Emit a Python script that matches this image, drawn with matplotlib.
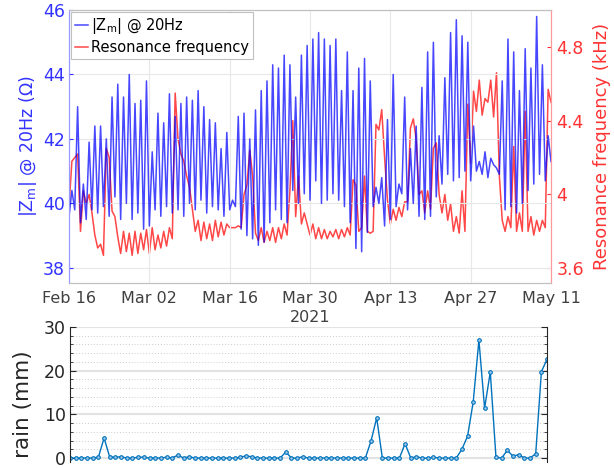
import matplotlib
matplotlib.use("Agg")
import matplotlib.pyplot as plt
import matplotlib.dates as mdates
import pandas as pd

# daily readings, Feb 16 .. May 10 (value at 00h, value at 12h)
zm_trough = [39.6, 39.8, 39.4, 39.5, 39.8, 39.7, 39.9, 39.6, 40.2, 39.5,
             40.0, 39.5, 39.7, 39.2, 39.3, 39.8, 39.6, 39.9, 39.7, 39.8,
             39.6, 40.0, 39.8, 40.1, 39.7, 39.9, 39.8, 39.6, 39.8, 39.9,
             39.2, 39.0, 38.9, 38.7, 38.8, 39.4, 39.8, 39.5, 39.4, 40.4,
             40.0, 40.3, 40.1, 40.7, 40.0, 40.1, 40.3, 40.1, 39.9, 39.4,
             38.6, 38.5, 39.1, 39.9, 40.0, 39.3, 39.5, 39.9, 40.3, 39.8,
             40.0, 39.6, 39.5, 39.6, 40.2, 40.6, 40.9, 40.7, 40.8, 41.0,
             40.7, 41.0, 40.9, 40.8, 41.2, 40.9, 39.8, 39.9, 39.7, 40.0,
             40.4, 40.6, 40.9, 40.7]
zm_peak = [40.4, 43.0, 40.6, 41.9, 42.4, 42.4, 42.0, 43.3, 43.7, 43.3,
           44.0, 43.1, 43.2, 43.8, 41.6, 42.8, 42.5, 43.4, 42.7, 43.1,
           43.3, 43.2, 43.5, 43.0, 42.6, 42.5, 41.7, 42.2, 40.1, 42.7,
           42.8, 42.0, 42.9, 43.5, 43.8, 44.3, 44.2, 44.6, 44.3, 43.3,
           44.6, 44.9, 45.1, 45.3, 45.1, 44.9, 45.1, 43.5, 44.7, 43.5,
           44.2, 44.5, 43.8, 40.5, 40.8, 42.6, 44.0, 40.6, 43.3, 41.7,
           42.4, 43.6, 44.7, 45.0, 42.1, 43.9, 45.3, 45.7, 45.2, 45.0,
           42.4, 41.3, 41.6, 41.4, 41.1, 43.8, 45.1, 44.7, 43.5, 44.8,
           44.2, 45.8, 44.3, 42.1]
zm_last = 41.3

fres_00h = [3.93, 4.20, 3.80, 3.95, 3.90, 3.71, 3.67, 4.20, 3.88, 3.68,
            3.69, 3.67, 3.68, 3.70, 3.68, 3.70, 3.71, 3.72, 3.76, 4.30,
            4.18, 4.04, 3.80, 3.75, 3.76, 3.75, 3.77, 3.78, 3.82, 3.82,
            3.82, 4.05, 4.10, 3.75, 3.74, 3.75, 3.74, 3.76, 3.78, 4.40,
            4.10, 3.90, 3.78, 3.76, 3.76, 3.76, 3.77, 3.76, 3.77, 3.78,
            4.05, 3.82, 3.80, 3.80, 4.35, 4.20, 3.84, 3.86, 3.88, 3.96,
            4.41, 4.00, 3.90, 3.92, 4.28, 3.90, 3.86, 3.80, 3.79, 3.80,
            4.17, 4.45, 4.43, 4.50, 4.42, 4.10, 3.80, 3.82, 3.80, 3.80,
            3.80, 3.78, 3.80, 3.82]
fres_12h = [4.18, 4.22, 4.02, 4.00, 3.78, 3.73, 4.25, 3.91, 3.77, 3.80,
            3.79, 3.80, 3.79, 3.81, 3.82, 3.78, 3.80, 3.82, 4.55, 4.22,
            4.10, 3.92, 3.86, 3.85, 3.84, 3.86, 3.85, 3.84, 3.82, 3.83,
            4.00, 4.24, 3.79, 3.82, 3.80, 3.82, 3.82, 3.84, 4.02, 3.88,
            3.84, 3.84, 3.84, 3.82, 3.81, 3.80, 3.81, 3.81, 3.82, 4.08,
            3.80, 4.10, 3.79, 4.38, 4.46, 3.97, 3.92, 3.93, 3.96, 4.36,
            4.30, 4.02, 4.02, 4.25, 4.00, 4.00, 3.95, 3.88, 4.02, 4.49,
            4.56, 4.62, 4.52, 4.62, 4.66, 3.86, 3.88, 4.26, 3.90, 4.45,
            3.88, 3.86, 3.86, 4.57]
fres_last = 4.50

# daily rain, Feb 16 .. May 11
rain = [0, 0, 0, 0, 0, 0.2, 4.6, 0.2, 0.2, 0.3,
        0, 0, 0.2, 0.2, 0, 0, 0, 0.2, 0, 0.7,
        0, 0.3, 0, 0, 0, 0, 0, 0, 0, 0,
        0.2, 0.5, 0.3, 0, 0, 0, 0, 0, 1.4, 0,
        0, 0.3, 0, 0, 0, 0, 0, 0, 0, 0,
        0, 0, 0, 3.9, 9.2, 0, 0, 0, 0, 3.3,
        0, 0.3, 0, 0, 0.2, 0, 0, 0, 0, 2.0,
        5.0, 12.9, 27.0, 11.4, 19.7, 0.2, 0, 1.8, 0.4, 0.8,
        0, 0, 1.0, 19.8, 22.6]

start = pd.Timestamp("2021-02-16")
end = pd.Timestamp("2021-05-11")
days = pd.date_range(start, periods=len(zm_peak), freq="D")
rain_days = pd.date_range(start, end, freq="D")


def half_day_series(v00, v12, last):
    t, v = [], []
    for d, a, b in zip(days, v00, v12):
        t += [d, d + pd.Timedelta(hours=12)]
        v += [a, b]
    t.append(end)
    v.append(last)
    return t, v


t_zm, v_zm = half_day_series(zm_trough, zm_peak, zm_last)
t_fr, v_fr = half_day_series(fres_00h, fres_12h, fres_last)

plt.rcParams["font.family"] = "DejaVu Sans"
fig = plt.figure(figsize=(6.14, 4.68), dpi=100)

# top panel
ax = fig.add_axes([0.1124, 0.3953, 0.785, 0.5833])
ax2 = ax.twinx()
ax.set_zorder(ax2.get_zorder() + 1)
ax.patch.set_visible(False)

l1, = ax.plot(t_zm, v_zm, color=(0, 0, 1, 0.72), lw=1.1, label="|Z$_{\\rm m}$| @ 20Hz")
l2, = ax2.plot(t_fr, v_fr, color=(1, 0, 0, 0.72), lw=1.1, label="Resonance frequency")

ax.set_xlim(start, end)
ax.set_ylim(37.53, 46)
ax2.set_ylim(3.52, 5.0)
ax.set_yticks([38, 40, 42, 44, 46])
ax2.set_yticks([3.6, 4.0, 4.4, 4.8])
ax2.set_yticklabels(["3.6", "4", "4.4", "4.8"])
ax.set_xticks(pd.date_range(start, end, freq="14D"))
ax.xaxis.set_major_formatter(mdates.DateFormatter("%b %d"))

ax.grid(True, color="#e8e8e8", lw=0.8)
ax.tick_params(axis="y", colors="#3333ff", labelsize=12.5, length=3, direction="in", pad=3)
ax.tick_params(axis="x", colors="#404040", labelsize=11.5, length=0, pad=6)
ax2.tick_params(axis="y", colors="#ff3333", labelsize=12.5, length=3, direction="in", pad=4)
ax.set_ylabel("|Z$_{\\rm m}$| @ 20Hz ($\\Omega$)", color="#3333ff", fontsize=12.5, labelpad=3)
ax2.set_ylabel("Resonance frequency (kHz)", color="#ff3333", fontsize=13, labelpad=6)
ax.set_xlabel("2021", color="#404040", fontsize=11.5, labelpad=3)

for a in (ax, ax2):
    a.spines["top"].set_color("#c0c0c0")
    a.spines["bottom"].set_color("#c0c0c0")
    a.spines["left"].set_color("#9999ff")
    a.spines["right"].set_color("#ff9999")

leg = ax.legend(handles=[l1, l2], loc="upper left", fontsize=10.5, fancybox=False,
                handlelength=0.9, handletextpad=0.2, borderpad=0.25,
                borderaxespad=0.15, labelspacing=0.3, framealpha=1)
leg.get_frame().set_edgecolor("#c0c0c0")
leg.get_frame().set_linewidth(0.8)

# bottom panel
bx = fig.add_axes([0.114, 0.0128, 0.777, 0.2885])
bx.plot(rain_days, rain, color="#0072BD", lw=1.0, marker="o", ms=2.6,
        mfc="#9cc8e8", mec="#0072BD", mew=0.8)
bx.set_xlim(start, end)
bx.set_ylim(-0.9, 30)
bx.set_yticks([0, 10, 20, 30])
bx.set_yticks(range(0, 31, 2), minor=True)
bx.grid(True, which="major", axis="y", color="#e3e3e3", lw=1.5)
bx.grid(True, which="minor", axis="y", color="#cccccc", lw=0.7, ls=(0, (1, 2)))
bx.set_xticks([])
bx.tick_params(axis="y", which="both", direction="in", left=True, right=True,
               colors="#262626", labelsize=12.5, pad=3)
bx.tick_params(axis="y", which="major", length=4)
bx.tick_params(axis="y", which="minor", length=2)
bx.set_ylabel("rain (mm)", fontsize=15.5, color="#262626")
bx.yaxis.set_label_coords(-0.078, 0.43)
bx.spines["bottom"].set_visible(False)
bx.spines["top"].set_visible(False)
bx.spines["left"].set_color("#262626")
bx.spines["right"].set_color("#262626")

fig.savefig("out.png", dpi=100)
